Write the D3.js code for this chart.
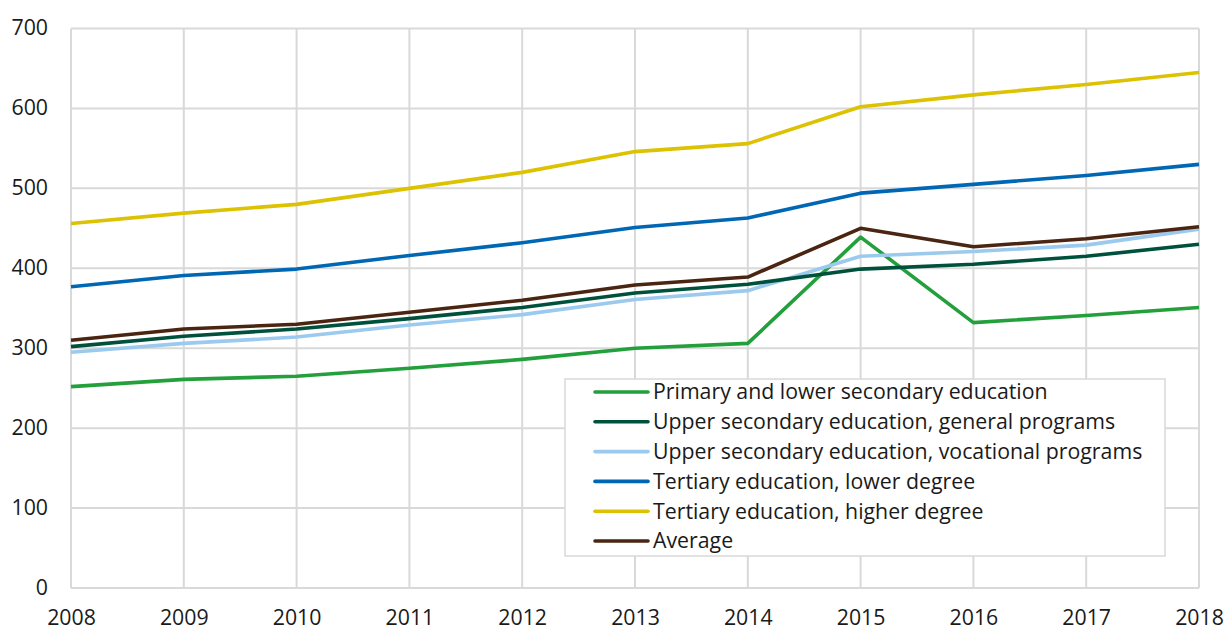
<!DOCTYPE html>
<html><head><meta charset="utf-8">
<script src="https://cdn.jsdelivr.net/npm/d3@7"></script>
<style>
html,body{margin:0;padding:0;background:#fff;}
text{font-family:"Open Sans","Noto Sans",sans-serif;}
</style></head>
<body><svg id="c" width="1224" height="630"></svg>
<script>
const years = [2008,2009,2010,2011,2012,2013,2014,2015,2016,2017,2018];
const yTicks = [0,100,200,300,400,500,600,700];
const seriesNames = [
  "Primary and lower secondary education",
  "Upper secondary education, general programs",
  "Upper secondary education, vocational programs",
  "Tertiary education, lower degree",
  "Tertiary education, higher degree",
  "Average"
];
const primary    = [252,261,265,275,286,300,306,439,332,341,351];
const upperGen   = [302,315,324,337,351,369,380,399,405,415,430];
const upperVoc   = [295,306,314,329,342,361,372,415,421,429,449];
const tertLower  = [377,391,399,416,432,451,463,494,505,516,530];
const tertHigher = [456,469,480,500,520,546,556,602,617,630,645];
const average    = [310,324,330,345,360,379,389,450,427,437,452];
const colors = ["#23a03b","#00513b","#9ccaee","#0067b4","#dcc200","#4a2512"];
const seriesValues = [primary, upperGen, upperVoc, tertLower, tertHigher, average];
const drawOrder = [0,2,1,3,4,5];
const FS = 21.3;

const svg = d3.select("#c");
const x = d3.scaleLinear().domain([2008,2018]).range([71,1199]);
const y = d3.scaleLinear().domain([0,700]).range([588,28.5]);

// grid
svg.append("g").selectAll("line").data(yTicks).join("line")
  .attr("x1",71).attr("x2",1199).attr("y1",d=>y(d)).attr("y2",d=>y(d))
  .attr("stroke","#d9d9d9").attr("stroke-width",2);
svg.append("g").selectAll("line").data(years).join("line")
  .attr("x1",d=>x(d)).attr("x2",d=>x(d)).attr("y1",y(0)).attr("y2",y(700))
  .attr("stroke","#d9d9d9").attr("stroke-width",2);

// axes
const yAxis = d3.axisLeft(y).tickValues(yTicks).tickSize(0).tickPadding(0);
const gy = svg.append("g").attr("transform","translate(48,0)").call(yAxis);
gy.select(".domain").remove();
gy.selectAll("text").attr("font-size",FS).attr("fill","#1a1a1a")
  .attr("font-family","'Open Sans','Noto Sans',sans-serif").attr("dy","0.3em");
const xAxis = d3.axisBottom(x).tickValues(years).tickFormat(d3.format("d")).tickSize(0).tickPadding(0);
const gx = svg.append("g").attr("transform","translate(0,610)").call(xAxis);
gx.select(".domain").remove();
gx.selectAll("text").attr("font-size",FS).attr("fill","#1a1a1a")
  .attr("font-family","'Open Sans','Noto Sans',sans-serif");

// lines
const line = d3.line().x((d,i)=>x(years[i])).y(d=>y(d));
svg.append("g").selectAll("path").data(drawOrder).join("path")
  .attr("d",i=>line(seriesValues[i]))
  .attr("fill","none").attr("stroke",i=>colors[i]).attr("stroke-width",3.6)
  .attr("stroke-linejoin","round");

// legend
const lg = svg.append("g");
lg.append("rect").attr("x",565).attr("y",379).attr("width",600).attr("height",177)
  .attr("fill","#fff").attr("stroke","#d9d9d9").attr("stroke-width",1.5);
const rows = lg.selectAll("g").data(seriesNames).join("g")
  .attr("transform",(d,i)=>`translate(0,${392+i*29.8})`);
rows.append("line").attr("x1",595).attr("x2",648).attr("y1",0).attr("y2",0)
  .attr("stroke",(d,i)=>colors[i]).attr("stroke-width",3.6).attr("stroke-linecap","round");
rows.append("text").attr("x",653).attr("y",0).attr("dy","0.35em")
  .attr("font-size",FS).attr("fill","#1a1a1a").text(d=>d);
</script></body></html>
